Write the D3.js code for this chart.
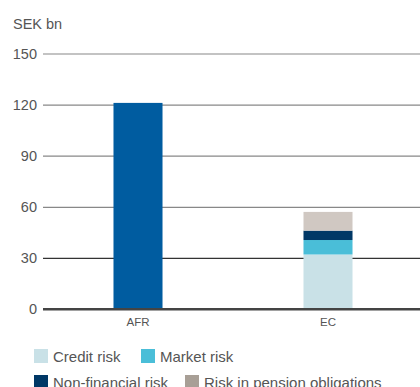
<!DOCTYPE html>
<html>
<head>
<meta charset="utf-8">
<script src="https://cdn.jsdelivr.net/npm/d3@7"></script>
<style>
  html, body { margin: 0; padding: 0; background: #fff; }
  svg { display: block; font-family: "Liberation Sans", Arial, sans-serif; }
</style>
</head>
<body>
<svg id="chart" width="420" height="387"></svg>
<script>
// Capital requirement, SEK bn
const categories = ["AFR", "EC"];
const afrValues = [121, 0];
const creditRisk = [0, 32];
const marketRisk = [0, 8.5];
const nonFinancialRisk = [0, 5.5];
const pensionRisk = [0, 11];
const yTicks = [0, 30, 60, 90, 120, 150];
const seriesNames = ["Available financial resources", "Credit risk", "Market risk", "Non-financial risk", "Risk in pension obligations"];

const colors = {
  "Available financial resources": "#005ca0",
  "Credit risk": "#c9e1e7",
  "Market risk": "#4abed8",
  "Non-financial risk": "#003866",
  "Risk in pension obligations": "#d0c8c2"
};
const legendPensionColor = "#a89f96";

const svg = d3.select("#chart");
const plotLeft = 43, plotRight = 420;

const y = d3.scaleLinear().domain([0, 150]).range([309, 53.5]);
const x = d3.scaleBand().domain(categories).range([43, 423])
  .paddingInner(0.742).paddingOuter(0.371);

// Axis title
svg.append("text").attr("x", 13).attr("y", 29)
  .attr("font-size", 14.5).attr("fill", "#555").text("SEK bn");

// Gridlines via axis
const yAxis = d3.axisLeft(y).tickValues(yTicks)
  .tickSize(-(plotRight - plotLeft)).tickPadding(6);
const gy = svg.append("g").attr("transform", `translate(${plotLeft},0)`).call(yAxis);
gy.select(".domain").remove();
gy.selectAll(".tick line")
  .attr("stroke", d => d === 0 ? "#444" : (d === 30 ? "#333" : "#888"))
  .attr("stroke-width", d => d === 0 ? 2 : 1.2);
gy.selectAll(".tick text")
  .attr("font-size", 14.5).attr("fill", "#555")
  .attr("font-family", "Liberation Sans, Arial, sans-serif");

// Stacked data
const rows = categories.map((c, i) => ({
  category: c,
  "Available financial resources": afrValues[i],
  "Credit risk": creditRisk[i],
  "Market risk": marketRisk[i],
  "Non-financial risk": nonFinancialRisk[i],
  "Risk in pension obligations": pensionRisk[i]
}));
const stack = d3.stack().keys(seriesNames)(rows);

svg.append("g").selectAll("g").data(stack).join("g")
  .attr("fill", s => colors[s.key])
  .selectAll("rect").data(s => s).join("rect")
  .attr("x", d => x(d.data.category))
  .attr("width", x.bandwidth())
  .attr("y", d => y(d[1]))
  .attr("height", d => y(d[0]) - y(d[1]));

// Redraw the zero line on top of bars
svg.append("line").attr("x1", plotLeft).attr("x2", plotRight)
  .attr("y1", y(0)).attr("y2", y(0))
  .attr("stroke", "#444").attr("stroke-width", 2);

// Category labels
const xAxis = d3.axisBottom(x).tickSize(0).tickPadding(9);
const gx = svg.append("g").attr("transform", `translate(0,${y(0)})`).call(xAxis);
gx.select(".domain").remove();
gx.selectAll(".tick text").attr("font-size", 11.5).attr("fill", "#555")
  .attr("font-family", "Liberation Sans, Arial, sans-serif");

// Legend
const legendItems = [
  { name: "Credit risk", color: colors["Credit risk"], x: 34, y: 349 },
  { name: "Market risk", color: colors["Market risk"], x: 141, y: 349 },
  { name: "Non-financial risk", color: colors["Non-financial risk"], x: 34, y: 375 },
  { name: "Risk in pension obligations", color: legendPensionColor, x: 185, y: 375 }
];
const lg = svg.append("g").selectAll("g").data(legendItems).join("g")
  .attr("transform", d => `translate(${d.x},${d.y})`);
lg.append("rect").attr("width", 14).attr("height", 14).attr("fill", d => d.color);
lg.append("text").attr("x", 19).attr("y", 13)
  .attr("font-size", 15).attr("fill", "#555").text(d => d.name);
</script>
</body>
</html>
